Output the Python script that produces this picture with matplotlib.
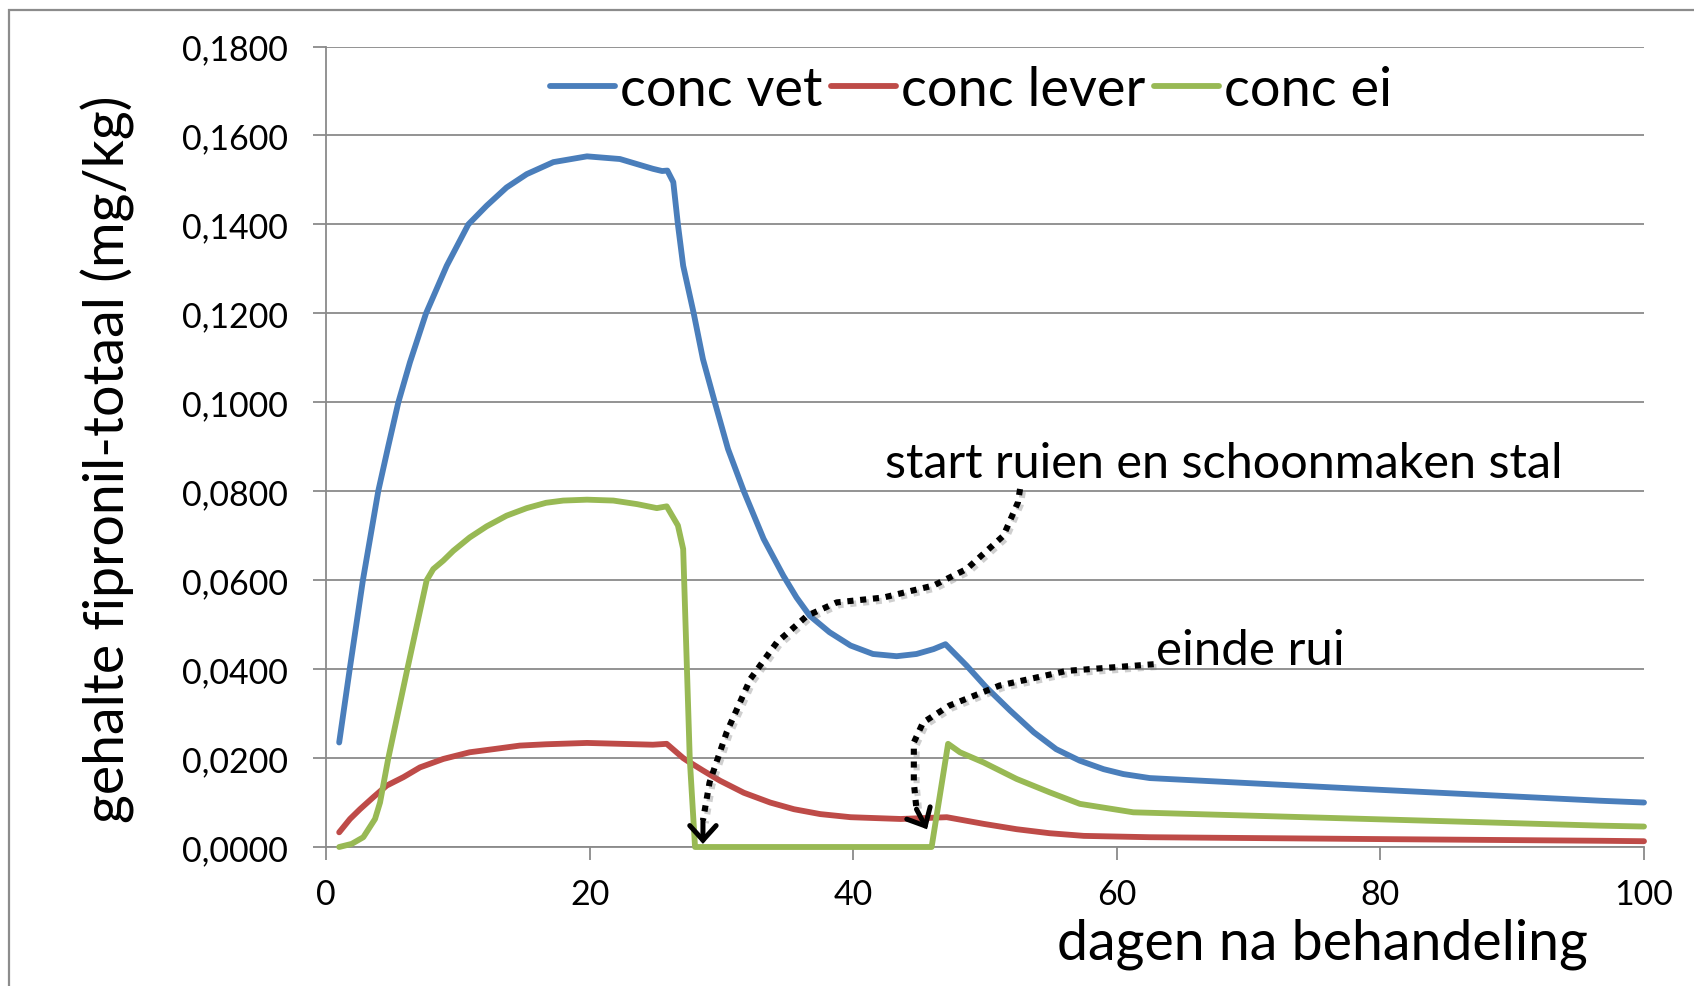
import matplotlib
matplotlib.use("Agg")
import matplotlib.pyplot as plt
from matplotlib.patches import Rectangle, FancyArrowPatch
import matplotlib.patheffects as pe

plt.rcParams['font.family'] = ['Lato', 'DejaVu Sans']

# ---------------- data ----------------
vet_days = [1.0, 1.8, 2.8, 3.97, 4.73, 5.49, 6.37, 7.59, 9.16, 10.8, 12.19, 13.7, 15.23,
            17.25, 19.8, 22.3, 24.8, 25.5, 25.9, 26.35, 26.7, 27.1, 27.9, 28.6, 29.5,
            30.5, 31.7, 33.2, 34.7, 35.7, 36.7, 38.2, 39.8, 41.5, 43.3, 44.8, 46.1,
            47.0, 48.6, 50.1, 51.9, 53.7, 55.4, 57.2, 59.0, 60.5, 62.5, 79.0, 96.7, 100.0]
vet_vals = [0.0235, 0.0400, 0.0600, 0.0801, 0.0902, 0.1000, 0.1090, 0.1200, 0.1307,
            0.1400, 0.1442, 0.1483, 0.1513, 0.1540, 0.1553, 0.1547, 0.1525, 0.1520,
            0.1521, 0.1495, 0.1400, 0.1307, 0.1200, 0.1097, 0.1000, 0.0895, 0.0800,
            0.0693, 0.0610, 0.0561, 0.0520, 0.0483, 0.0453, 0.0434, 0.0429, 0.0434,
            0.0445, 0.0456, 0.0408, 0.0359, 0.0307, 0.0258, 0.0220, 0.0194, 0.0175,
            0.0164, 0.0155, 0.0130, 0.0104, 0.0100]

lever_days = [1.0, 1.82, 2.58, 3.59, 4.6, 5.87, 7.13, 8.9, 10.9, 12.7, 14.7, 16.7, 19.8,
              24.8, 25.85, 27.1, 27.4, 28.6, 29.9, 31.7, 33.7, 35.5, 37.5,
              39.8, 43.6, 47.1, 49.9, 52.4, 54.9, 57.5, 62.5, 79.0, 96.7, 100.0]
lever_vals = [0.0033, 0.0063, 0.0085, 0.0112, 0.0138, 0.0157, 0.0179, 0.0198, 0.0213,
              0.0220, 0.0228, 0.0231, 0.0234, 0.0230, 0.0232, 0.0200, 0.0194, 0.0172,
              0.0149, 0.0122, 0.0100, 0.0085, 0.0074, 0.0067, 0.0063,
              0.0067, 0.0052, 0.0040, 0.0031, 0.0025, 0.0022, 0.0018, 0.0014, 0.0013]

ei_days = [1.0, 1.95, 2.83, 3.72, 4.1, 4.73, 6.17, 7.64, 8.14, 8.9, 9.66, 10.9, 12.19,
           13.7, 15.23, 16.7, 18.0, 19.8, 21.8, 23.6, 25.1, 25.85, 26.7, 27.1, 27.37,
           27.6, 28.0, 45.95, 47.2, 48.1, 49.9, 52.4, 54.9, 57.2, 61.25, 79.0, 96.7, 100.0]
ei_vals = [0.0, 0.0007, 0.0022, 0.0063, 0.0100, 0.0200, 0.0400, 0.0600, 0.0625, 0.0644,
           0.0666, 0.0696, 0.0721, 0.0745, 0.0762, 0.0774, 0.0779, 0.0781, 0.0779,
           0.0771, 0.0762, 0.0766, 0.0723, 0.0670, 0.0415, 0.0198, 0.0, 0.0, 0.0232,
           0.0213, 0.0190, 0.0153, 0.0123, 0.0097, 0.0078, 0.0063, 0.0048, 0.0046]

series_names = ["conc vet", "conc lever", "conc ei"]
series_colors = ["#4A7EBB", "#BE4B48", "#98B954"]

y_ticks = [0.0, 0.02, 0.04, 0.06, 0.08, 0.10, 0.12, 0.14, 0.16, 0.18]
y_ticklabels = ["0,0000", "0,0200", "0,0400", "0,0600", "0,0800", "0,1000",
                "0,1200", "0,1400", "0,1600", "0,1800"]
x_ticks = [0, 20, 40, 60, 80, 100]
x_ticklabels = ["0", "20", "40", "60", "80", "100"]

# annotation guide paths (data coords)
arrow1_x = [52.66, 52.5, 51.4, 48.6, 46.1, 42.3, 38.75, 36.5, 34.2, 32.2, 30.4, 29.1, 28.6]
arrow1_y = [0.0805, 0.0775, 0.0700, 0.0625, 0.0588, 0.0561, 0.0550, 0.0520, 0.0460,
            0.0378, 0.0258, 0.0145, 0.0060]
arrow1_tip = (28.6, 0.0007)
arrow2_x = [62.8, 56.2, 51.1, 47.3, 45.3, 44.6, 44.6, 44.8]
arrow2_y = [0.0411, 0.0396, 0.0363, 0.0318, 0.0280, 0.0235, 0.0145, 0.0085]
arrow2_tip = (45.6, 0.0040)

# ---------------- figure ----------------
W, H = 1694, 987
fig = plt.figure(figsize=(W / 100, H / 100), dpi=100)
fig.patch.set_facecolor("white")

# outer chart border
fig.patches.append(Rectangle((9 / W, -0.05), 1.1, 1 - 11 / H + 0.05,
                             transform=fig.transFigure, fill=False,
                             edgecolor="#8c8c8c", lw=1.6, zorder=0))

ax = fig.add_axes([326 / W, 1 - 848 / H, 1318 / W, (848 - 47.5) / H])
ax.set_xlim(0, 100)
ax.set_ylim(0, 0.18)

grid_c = "#8a8a8a"
ax.set_yticks(y_ticks)
ax.set_yticklabels(y_ticklabels)
ax.set_xticks(x_ticks)
ax.set_xticklabels(x_ticklabels)
ax.yaxis.grid(True, color=grid_c, lw=1.3)
ax.xaxis.grid(False)
ax.set_axisbelow(True)
for s in ["top", "right"]:
    ax.spines[s].set_visible(False)
for s in ["left", "bottom"]:
    ax.spines[s].set_color(grid_c)
    ax.spines[s].set_linewidth(1.3)
ax.tick_params(axis="y", direction="out", length=9.5, width=1.3, color=grid_c,
               labelsize=24.5, pad=18)
ax.tick_params(axis="x", direction="out", length=9.5, width=1.3, color=grid_c,
               labelsize=24.5, pad=13)

lw = 4.2
for d, v, name, c in zip([vet_days, lever_days, ei_days],
                         [vet_vals, lever_vals, ei_vals],
                         series_names, series_colors):
    ax.plot(d, v, color=c, lw=lw, label=name, solid_capstyle="round",
            solid_joinstyle="round", zorder=3, clip_on=False)

leg = ax.legend(loc="center", bbox_to_anchor=(971 / W, 1 - 90.5 / H),
                bbox_transform=fig.transFigure, ncol=3, frameon=False,
                fontsize=39, handlelength=1.2, handletextpad=0.1,
                columnspacing=0.15, borderpad=0, borderaxespad=0)

# labels
fig.text(108 / W, 1 - 459 / H, "gehalte fipronil-totaal (mg/kg)", rotation=90,
         ha="center", va="center", fontsize=40)
fig.text(1588 / W, 1 - 960 / H, "dagen na behandeling", ha="right",
         va="baseline", fontsize=40)

# annotations
ax.text(885 / W, 1 - 478 / H, "start ruien en schoonmaken stal", transform=fig.transFigure,
        ha="left", va="baseline", fontsize=35, zorder=6)
ax.text(1156 / W, 1 - 665 / H, "einde rui", transform=fig.transFigure,
        ha="left", va="baseline", fontsize=35.5, zorder=6)

shadow = [pe.SimpleLineShadow(offset=(2, -2), shadow_color="#777777", alpha=0.35),
          pe.Normal()]
for px, py, tip in [(arrow1_x, arrow1_y, arrow1_tip), (arrow2_x, arrow2_y, arrow2_tip)]:
    ax.plot(px, py, color="black", lw=4.4, linestyle=(0, (1, 1.1)),
            dash_capstyle="butt", zorder=5, path_effects=shadow, clip_on=False)
    arr = FancyArrowPatch((px[-1], py[-1]), tip, arrowstyle="->,head_length=0.42,head_width=0.38",
                          mutation_scale=25, lw=3.6, color="black", shrinkA=0, shrinkB=0,
                          zorder=5, clip_on=False, capstyle="round", joinstyle="miter")
    ax.add_patch(arr)

fig.savefig("out.png", dpi=100, facecolor="white")
